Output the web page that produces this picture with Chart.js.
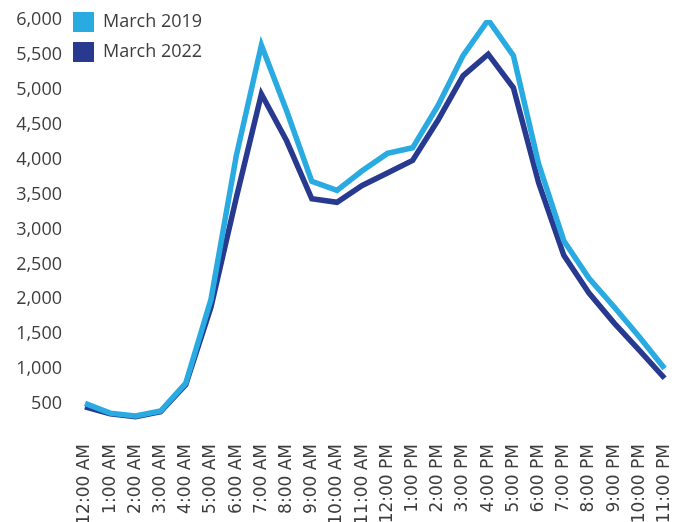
<!DOCTYPE html>
<html>
<head>
<meta charset="utf-8">
<script src="https://cdn.jsdelivr.net/npm/chart.js@4"></script>
<style>
  html, body { margin: 0; padding: 0; background: #fff; }
  #wrap { width: 690px; height: 522px; position: relative; }
</style>
</head>
<body>
<div id="wrap"><canvas id="rideChart"></canvas></div>
<script>
const hours = ['12:00 AM', '1:00 AM', '2:00 AM', '3:00 AM', '4:00 AM', '5:00 AM', '6:00 AM', '7:00 AM',
  '8:00 AM', '9:00 AM', '10:00 AM', '11:00 AM', '12:00 PM', '1:00 PM', '2:00 PM', '3:00 PM',
  '4:00 PM', '5:00 PM', '6:00 PM', '7:00 PM', '8:00 PM', '9:00 PM', '10:00 PM', '11:00 PM'];
const march2019 = [510, 370, 330, 400, 800, 2000, 4050, 5640, 4700, 3690, 3560, 3840,
  4090, 4170, 4770, 5490, 6000, 5490, 3940, 2840, 2300, 1890, 1460, 1010];
const march2022 = [460, 360, 320, 390, 780, 1890, 3450, 4940, 4270, 3440, 3390, 3630,
  3810, 3990, 4560, 5200, 5510, 5030, 3670, 2630, 2090, 1660, 1270, 870];
const yTicks = [500, 1000, 1500, 2000, 2500, 3000, 3500, 4000, 4500, 5000, 5500, 6000];

const textColor = '#3d3d3d';
const labelFont = '"Open Sans", sans-serif';

// legend drawn in the top-left corner of the plot
const cornerLegend = {
  id: 'cornerLegend',
  afterDraw(chart) {
    const c = chart.ctx;
    c.save();
    c.font = '18px ' + labelFont;
    c.textBaseline = 'middle';
    chart.data.datasets.forEach(function (ds, i) {
      const y = 22 + i * 30;
      c.fillStyle = ds.borderColor;
      c.fillRect(73, y - 10, 21, 20);
      c.fillStyle = textColor;
      c.fillText(ds.label, 103, y);
    });
    c.restore();
  }
};

document.addEventListener('DOMContentLoaded', function () {
  const ctx = document.getElementById('rideChart').getContext('2d');
  new Chart(ctx, {
    type: 'line',
    data: {
      labels: hours,
      datasets: [{
        label: 'March 2019',
        data: march2019,
        borderColor: '#29abe2',
        borderWidth: 5.5,
        pointRadius: 0,
        tension: 0
      }, {
        label: 'March 2022',
        data: march2022,
        borderColor: '#283a8f',
        borderWidth: 5.5,
        pointRadius: 0,
        tension: 0
      }]
    },
    options: {
      responsive: true,
      maintainAspectRatio: false,
      animation: false,
      layout: { padding: { top: 20, right: 17, left: 0, bottom: 0 } },
      scales: {
        x: {
          grid: { display: false, drawTicks: false },
          border: { display: false },
          afterFit: function (axis) { axis.height = 83; },
          ticks: {
            minRotation: 90,
            maxRotation: 90,
            autoSkip: false,
            padding: 5,
            color: textColor,
            font: { family: '"DejaVu Sans", sans-serif', size: 17 }
          }
        },
        y: {
          min: 0,
          max: 6000,
          grid: { display: false, drawTicks: false },
          border: { display: false },
          afterFit: function (axis) {
            axis.width = 85;
            axis.paddingTop = 0;
            axis.paddingBottom = 0;
          },
          afterBuildTicks: function (axis) {
            axis.ticks = yTicks.map(function (v) { return { value: v }; });
          },
          ticks: {
            padding: 23,
            color: textColor,
            font: { family: labelFont, size: 18 },
            callback: function (v) { return v.toLocaleString('en-US'); }
          }
        }
      },
      plugins: {
        legend: { display: false },
        tooltip: { enabled: false }
      }
    },
    plugins: [cornerLegend]
  });
});
</script>
</body>
</html>
